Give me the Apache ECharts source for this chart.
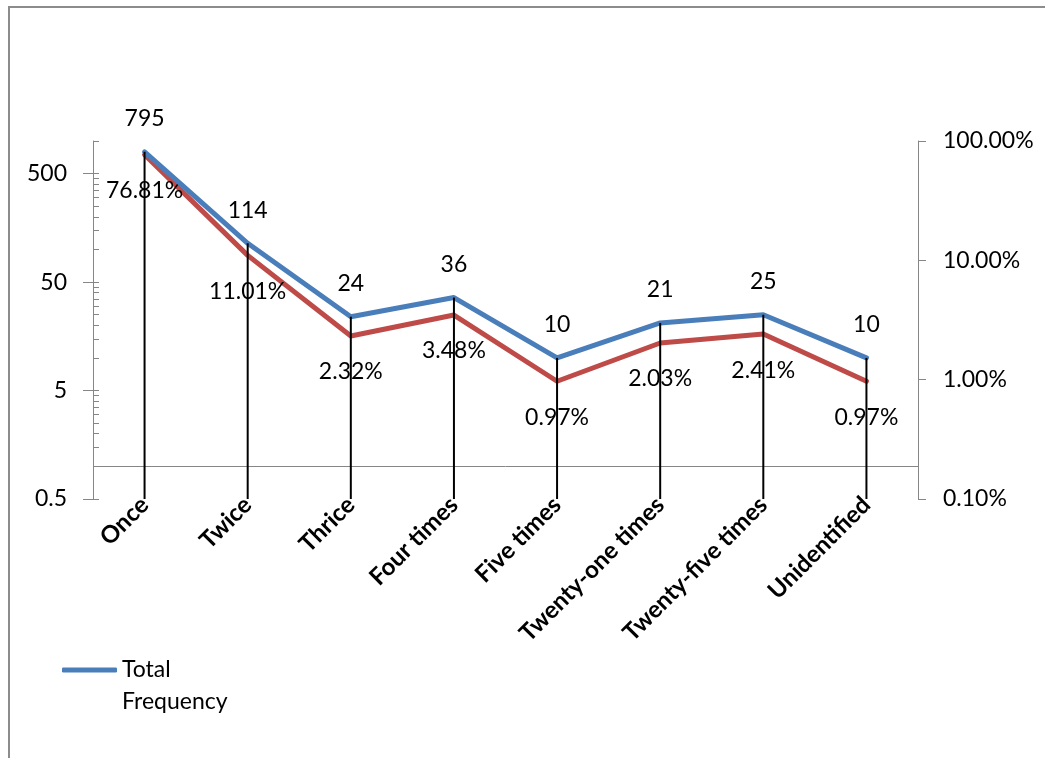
<!DOCTYPE html>
<html>
<head>
<meta charset="utf-8">
<script src="https://cdn.jsdelivr.net/npm/echarts@6/dist/echarts.min.js"></script>
<style>
  html, body { margin: 0; padding: 0; background: #ffffff; }
  #chart { width: 1045px; height: 758px; }
</style>
</head>
<body>
<div id="chart"></div>
<script>
// Occurrence categories
const categories = ['Once', 'Twice', 'Thrice', 'Four times', 'Five times',
  'Twenty-one times', 'Twenty-five times', 'Unidentified'];
// Total frequency per category (left, log scale)
const totalFrequency = [795, 114, 24, 36, 10, 21, 25, 10];
// Share of the total per category (right, log scale)
const percentShare = [0.7681, 0.1101, 0.0232, 0.0348, 0.0097, 0.0203, 0.0241, 0.0097];
// Left axis ticks
const leftMajorTicks = [0.5, 5, 50, 500];
const leftMinorTicks = [
  1, 1.5, 2, 2.5, 3, 3.5, 4, 4.5,
  10, 15, 20, 25, 30, 35, 40, 45,
  100, 150, 200, 250, 300, 350, 400, 450,
  1000
];

const FONT = 'Lato, "Liberation Sans", sans-serif';
const BLUE = '#4a7ebb';
const RED = '#be4b48';
const AXIS_GREY = '#868686';

const chart = echarts.init(document.getElementById('chart'), null, { renderer: 'canvas' });

const dropLineData = totalFrequency.map((v, i) => [i, v]);

chart.setOption({
  animation: false,
  backgroundColor: '#ffffff',
  textStyle: { fontFamily: FONT },
  graphic: [{
    type: 'rect',
    silent: true,
    shape: { x: 9, y: 7, width: 1100, height: 900 },
    style: { fill: 'none', stroke: '#8c8c8c', lineWidth: 2 }
  }],
  grid: { left: 93, right: 127, top: 141, bottom: 259, containLabel: false },
  legend: {
    left: 62,
    top: 622,
    padding: 0,
    data: [{ name: 'Total Frequency', icon: 'roundRect' }],
    itemWidth: 55,
    itemHeight: 5,
    itemGap: 4,
    // blank first line keeps the swatch level with "Total"
    formatter: () => ' \nTotal\nFrequency',
    textStyle: {
      fontFamily: FONT, fontSize: 23, color: '#000000', lineHeight: 32
    }
  },
  xAxis: {
    type: 'category',
    data: categories,
    boundaryGap: true,
    axisLine: { show: false },
    axisTick: { show: false },
    splitLine: { show: false },
    axisLabel: {
      rotate: 45,
      interval: 0,
      margin: 2,
      fontFamily: FONT,
      fontSize: 24,
      fontWeight: 'bold',
      color: '#000000'
    }
  },
  yAxis: [
    {
      type: 'log',
      logBase: 10,
      min: 0.5,
      max: 1000,
      position: 'left',
      axisLine: { show: true, lineStyle: { color: AXIS_GREY, width: 1 } },
      axisTick: {
        show: true, length: 10, inside: false,
        customValues: leftMajorTicks,
        lineStyle: { color: AXIS_GREY, width: 1 }
      },
      axisLabel: {
        customValues: leftMajorTicks,
        margin: 26,
        fontFamily: FONT, fontSize: 23, color: '#000000',
        formatter: (v) => String(v)
      },
      splitLine: { show: false }
    },
    {
      type: 'log',
      logBase: 10,
      min: 0.001,
      max: 1,
      position: 'right',
      axisLine: { show: true, lineStyle: { color: AXIS_GREY, width: 1 } },
      axisTick: { show: true, length: 8, inside: false, lineStyle: { color: AXIS_GREY, width: 1 } },
      axisLabel: {
        margin: 25,
        fontFamily: FONT, fontSize: 23, color: '#000000',
        formatter: (v) => (v * 100).toFixed(2) + '%'
      },
      splitLine: { show: false }
    },
    {
      // inner ticks of the left scale
      type: 'log',
      logBase: 10,
      min: 0.5,
      max: 1000,
      position: 'left',
      axisLine: { show: false },
      axisTick: {
        show: true, length: 6, inside: true,
        customValues: leftMajorTicks.concat(leftMinorTicks),
        lineStyle: { color: AXIS_GREY, width: 1 }
      },
      axisLabel: { show: false },
      splitLine: { show: false }
    }
  ],
  series: [
    {
      name: 'Total Frequency',
      type: 'line',
      yAxisIndex: 0,
      data: totalFrequency,
      z: 4,
      symbol: 'circle',
      symbolSize: 1,
      showSymbol: true,
      itemStyle: { color: BLUE },
      lineStyle: { color: BLUE, width: 5, cap: 'round', join: 'round' },
      label: {
        show: true,
        position: 'top',
        distance: 21,
        fontFamily: FONT, fontSize: 23, color: '#000000',
        formatter: (p) => String(p.value)
      },
      markLine: {
        silent: true,
        symbol: 'none',
        label: { show: false },
        lineStyle: { color: AXIS_GREY, width: 1, type: 'solid' },
        data: [{ yAxis: 1 }]
      }
    },
    {
      name: 'Percentage',
      type: 'line',
      yAxisIndex: 1,
      data: percentShare,
      z: 3,
      symbol: 'circle',
      symbolSize: 1,
      showSymbol: true,
      itemStyle: { color: RED },
      lineStyle: { color: RED, width: 5, cap: 'round', join: 'round' },
      label: {
        show: true,
        position: 'bottom',
        distance: 24,
        fontFamily: FONT, fontSize: 23, color: '#000000',
        formatter: (p) => (p.value * 100).toFixed(2) + '%'
      }
    },
    {
      name: 'Drop lines',
      type: 'custom',
      yAxisIndex: 0,
      z: 5,
      silent: true,
      data: dropLineData,
      renderItem: (params, api) => {
        const top = api.coord([api.value(0), api.value(1)]);
        const bottom = api.coord([api.value(0), 0.5]);
        return {
          type: 'line',
          shape: { x1: top[0], y1: top[1], x2: bottom[0], y2: bottom[1] },
          style: { stroke: '#000000', lineWidth: 2 }
        };
      }
    }
  ]
});
</script>
</body>
</html>
